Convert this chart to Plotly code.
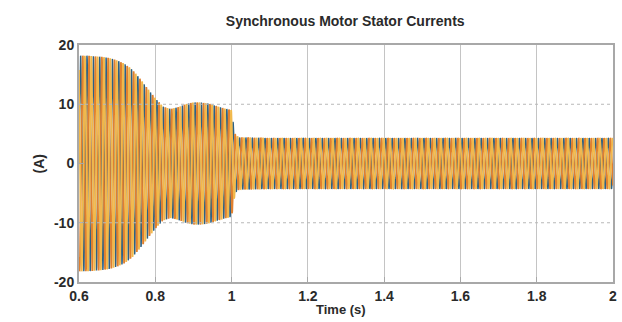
import numpy as np
import plotly.graph_objects as go

# Peak stator current envelope (A) at selected times (s)
env_t = [0.60, 0.62, 0.64, 0.66, 0.68, 0.70, 0.72, 0.74, 0.76, 0.78, 0.80, 0.82,
         0.84, 0.86, 0.88, 0.90, 0.92, 0.94, 0.96, 0.98, 1.00, 1.005, 1.01, 1.02,
         1.10, 1.20, 1.40, 1.60, 1.80, 2.00]
env_a = [18.2, 18.2, 18.1, 18.0, 17.8, 17.4, 16.8, 15.8, 14.3, 12.6, 11.0, 9.6,
         9.2, 9.5, 10.0, 10.3, 10.3, 10.1, 9.7, 9.3, 9.0, 6.5, 4.8, 4.4,
         4.3, 4.3, 4.3, 4.3, 4.3, 4.3]

phase_names = ["i_a", "i_b", "i_c"]
phase_colors = ["#2b6185", "#e0802f", "#f1b94c"]
phase_widths = [1.4, 1.8, 1.8]
phase_shift_deg = [0, -120, 120]
freq_hz = 60.0

x_ticks = [0.6, 0.8, 1.0, 1.2, 1.4, 1.6, 1.8, 2.0]
x_tick_text = ["0.6", "0.8", "1", "1.2", "1.4", "1.6", "1.8", "2"]
y_ticks = [-20, -10, 0, 10, 20]
y_tick_text = ["-20", "-10", "0", "10", "20"]

t = np.linspace(0.6, 2.0, 6000)
amp = np.interp(t, env_t, env_a)

fig = go.Figure()
for name, color, w, sh in zip(phase_names, phase_colors, phase_widths, phase_shift_deg):
    i = amp * np.sin(2 * np.pi * freq_hz * t + np.deg2rad(sh))
    fig.add_trace(go.Scatter(x=t, y=i, mode="lines", name=name,
                             line=dict(color=color, width=w)))

# horizontal dotted grid lines
for yv in [-10, 10]:
    fig.add_shape(type="line", xref="paper", yref="y", x0=0, x1=1, y0=yv, y1=yv,
                  line=dict(color="#b8b8b8", width=1, dash="dot"), layer="above")

font_main = dict(family="Liberation Sans, Arial, sans-serif", size=14,
                 color="#2a2a2a", weight="bold")

fig.update_layout(
    width=622, height=322,
    margin=dict(l=79, r=5, t=45, b=40),
    paper_bgcolor="white", plot_bgcolor="white",
    showlegend=False,
    title=dict(text="<b>Synchronous Motor Stator Currents</b>",
               x=0.555, xanchor="center", y=0.935, yanchor="middle",
               font=dict(family="Liberation Sans, Arial, sans-serif", size=14,
                         color="#2a2a2a")),
    font=font_main,
)

fig.update_xaxes(range=[0.6, 2.0], tickvals=x_ticks, ticktext=x_tick_text,
                 showgrid=True, gridcolor="#c4c4c4", gridwidth=1,
                 showline=True, linecolor="#a8a8a8", linewidth=2, mirror=True,
                 ticks="inside", ticklen=5, tickcolor="#a8a8a8",
                 zeroline=False, tickfont=font_main)
fig.update_yaxes(range=[-20, 20], tickvals=y_ticks, ticktext=y_tick_text,
                 showgrid=False,
                 showline=True, linecolor="#a8a8a8", linewidth=2, mirror=True,
                 ticks="inside", ticklen=5, tickcolor="#a8a8a8",
                 zeroline=False, tickfont=font_main)

fig.add_annotation(text="(A)", xref="paper", yref="paper", x=-0.075, y=0.5,
                   xanchor="center", yanchor="middle", textangle=-90,
                   showarrow=False, font=font_main)
fig.add_annotation(text="Time (s)", xref="paper", yref="paper", x=0.49, y=-0.155,
                   xanchor="center", yanchor="bottom", showarrow=False,
                   font=dict(family="Liberation Sans, Arial, sans-serif", size=13,
                             color="#2a2a2a", weight="bold"))

fig.write_html("out.html")
